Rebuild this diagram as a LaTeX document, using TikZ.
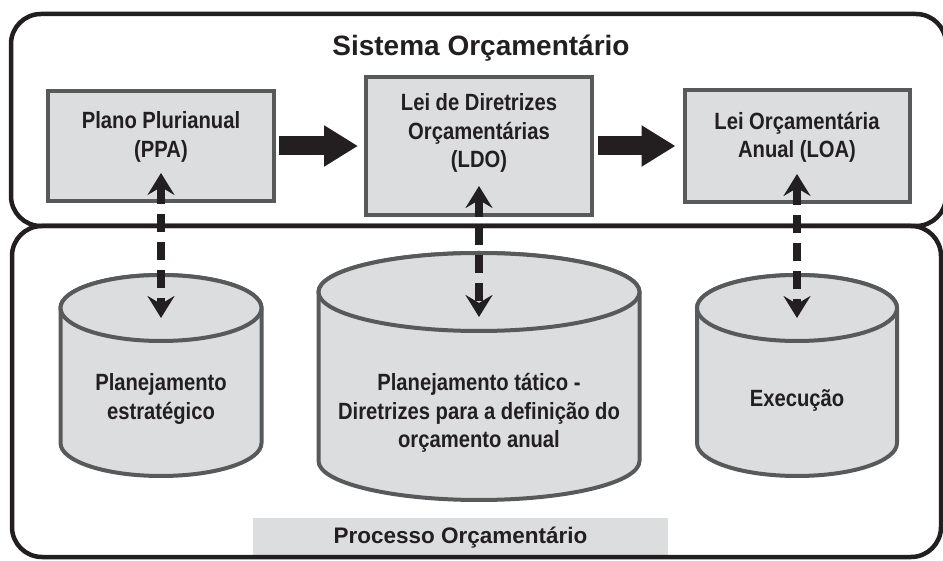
\documentclass[tikz,border=0pt]{standalone}
\usepackage{fontspec}
\setmainfont{Liberation Sans}
\newfontfamily\condfont[FakeStretch=0.86]{Liberation Sans}
\usetikzlibrary{arrows.meta}
\definecolor{ink}{HTML}{231F20}
\definecolor{boxfill}{HTML}{DCDDDE}
\definecolor{boxline}{HTML}{58595B}
\begin{document}
\begin{tikzpicture}[x=1pt,y=1pt,
  outerbox/.style={draw=ink, line width=4.5pt, rounded corners=30pt},
  lawbox/.style={draw=boxline, fill=boxfill, line width=4pt, inner sep=0pt},
  lawtext/.style={text=ink, font=\condfont\bfseries\fontsize{23.5}{28.5}\selectfont, align=center, inner sep=0pt},
  cylshape/.style={draw=boxline, fill=boxfill, line width=4pt},
  bigarrow/.style={draw=ink, line width=19pt, -{Triangle[length=34pt,width=39pt]}},
  linkarrow/.style={draw=ink, line width=8pt, dash pattern=on 18pt off 10pt,
    {Stealth[length=22pt,width=27pt,inset=8pt]}-{Stealth[length=22pt,width=27pt,inset=8pt]}},
  titletext/.style={text=ink, font=\bfseries\fontsize{28}{32}\selectfont, inner sep=0pt}
]
\useasboundingbox (0,0) rectangle (943,560);

% label band
\fill[boxfill] (253,3) rectangle (668,42);

% outer frames
\draw[outerbox] (11,546) rectangle (946,334);
\draw[outerbox] (12,334) rectangle (941,3);

\node[titletext] (sistema) at (481,512) {Sistema Orçamentário};
\node[titletext, font=\bfseries\fontsize{22.5}{26}\selectfont] (processo) at (460.5,22) {Processo Orçamentário};

% cylinders
% A
\path[cylshape] (60.5,252) -- (60.5,117) arc[start angle=180,end angle=360,x radius=100.5,y radius=33] -- (261.5,252) arc[start angle=0,end angle=180,x radius=100.5,y radius=33] -- cycle;
\draw[cylshape] (161,252) ellipse[x radius=100.5, y radius=33];
\coordinate (cylAtop) at (161,252);
\node[lawtext] (cylA) at (161,161) {Planejamento\\estratégico};
% B
\path[cylshape] (318.5,268) -- (318.5,99) arc[start angle=180,end angle=360,x radius=160.5,y radius=39] -- (639.5,268) arc[start angle=0,end angle=180,x radius=160.5,y radius=39] -- cycle;
\draw[cylshape] (479,268) ellipse[x radius=160.5, y radius=39];
\coordinate (cylBtop) at (479,268);
\node[lawtext] (cylB) at (479,147) {Planejamento tático -\\Diretrizes para a definição do\\orçamento anual};
% C
\path[cylshape] (697,252) -- (697,117) arc[start angle=180,end angle=360,x radius=100,y radius=33] -- (897,252) arc[start angle=0,end angle=180,x radius=100,y radius=33] -- cycle;
\draw[cylshape] (797,252) ellipse[x radius=100, y radius=33];
\coordinate (cylCtop) at (797,252);
\node[lawtext] (cylC) at (797,160) {Execução};

% law boxes
\node[lawbox, minimum width=226pt, minimum height=110pt] (ppa) at (161,414) {};
\node[lawbox, minimum width=226pt, minimum height=138pt] (ldo) at (479,414) {};
\node[lawbox, minimum width=225pt, minimum height=112pt] (loa) at (797,414) {};
\node[lawtext] (ppaT) at ([yshift=9pt]ppa.center) {Plano Plurianual\\(PPA)};
\node[lawtext] (ldoT) at ([yshift=13pt]ldo.center) {Lei de Diretrizes\\Orçamentárias\\(LDO)};
\node[lawtext] (loaT) at ([yshift=8.5pt]loa.center) {Lei Orçamentária\\Anual (LOA)};

% big arrows
\draw[bigarrow] ([xshift=3pt]ppa.east) -- ([xshift=-6pt]ldo.west);
\draw[bigarrow] ([xshift=4pt]ldo.east) -- ([xshift=-7pt]loa.west);

% dashed links
\draw[linkarrow] ([yshift=30pt]ppa.south) -- ([yshift=-10pt]cylAtop);
\draw[linkarrow] ([yshift=31pt]ldo.south) -- ([yshift=-25pt]cylBtop);
\draw[linkarrow] ([yshift=30pt]loa.south) -- ([yshift=-10pt]cylCtop);
\end{tikzpicture}
\end{document}
